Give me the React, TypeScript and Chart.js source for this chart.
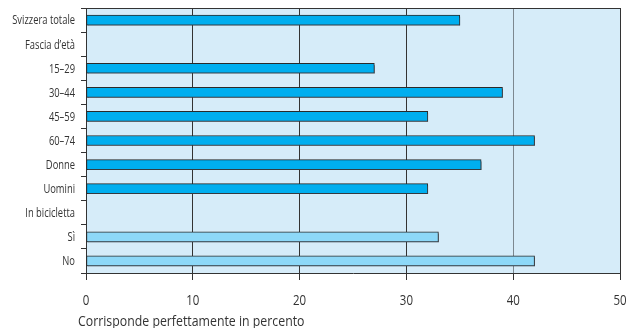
import React, { useEffect, useRef } from "react";
import { Chart, registerables } from "chart.js";

Chart.register(...registerables);

const categories = [
  "Svizzera totale",
  "Fascia d’età",
  "15–29",
  "30–44",
  "45–59",
  "60–74",
  "Donne",
  "Uomini",
  "In bicicletta",
  "Sì",
  "No",
];
const values: (number | null)[] = [35, null, 27, 39, 32, 42, 37, 32, null, 33, 42];
const barColors = [
  "#00aeef", "#00aeef", "#00aeef", "#00aeef", "#00aeef", "#00aeef",
  "#00aeef", "#00aeef", "#8dd8f8", "#8dd8f8", "#8dd8f8",
];
const xTicks = [0, 10, 20, 30, 40, 50];
const xTitle = "Corrisponde perfettamente in percento";

const FONT = "'Open Sans', sans-serif";
const TEXT = "#333333";

function condensedText(ctx: any, text: string, x: number, y: number, size: number, sx: number, align: string, baseline: string) {
  ctx.save();
  ctx.font = `${size}px ${FONT}`;
  ctx.fillStyle = TEXT;
  ctx.textAlign = align;
  ctx.textBaseline = baseline;
  ctx.translate(x, y);
  ctx.scale(sx, 1);
  ctx.fillText(text, 0, 0);
  ctx.restore();
}

const bgPlugin = {
  id: "plotBg",
  beforeDraw(chart: any) {
    const { ctx, chartArea } = chart;
    ctx.save();
    ctx.fillStyle = "#d6ecf9";
    ctx.fillRect(chartArea.left, chartArea.top, chartArea.right - chartArea.left, chartArea.bottom - chartArea.top);
    ctx.restore();
  },
  beforeDatasetsDraw(chart: any) {
    const { ctx, chartArea } = chart;
    ctx.save();
    ctx.strokeStyle = "#333333";
    ctx.lineWidth = 1;
    ctx.beginPath();
    ctx.moveTo(chartArea.left, Math.round(chartArea.top) + 0.5);
    ctx.lineTo(chartArea.right, Math.round(chartArea.top) + 0.5);
    ctx.stroke();
    ctx.restore();
    ctx.save();
    ctx.shadowColor = "rgba(60,70,80,0.6)";
    ctx.shadowOffsetX = 1;
    ctx.shadowOffsetY = 2;
    ctx.shadowBlur = 0;
  },
  afterDatasetsDraw(chart: any) {
    chart.ctx.restore();
  },
  afterDraw(chart: any) {
    const { ctx, scales, chartArea } = chart;
    const y = scales.y;
    const x = scales.x;
    categories.forEach((c, i) => {
      condensedText(ctx, c, 75, y.getPixelForValue(i) + 1, 12, 0.78, "right", "middle");
    });
    xTicks.forEach((v) => {
      condensedText(ctx, String(v), x.getPixelForValue(v), chartArea.bottom + 28, 14, 0.82, "center", "middle");
    });
    condensedText(ctx, xTitle, 78, 326, 14, 0.88, "left", "alphabetic");
  },
};

export default function App() {
  const ref = useRef<HTMLCanvasElement>(null);
  useEffect(() => {
    document.body.style.margin = "0";
    const chart = new Chart(ref.current!, {
      type: "bar",
      data: {
        labels: categories,
        datasets: [
          {
            data: values,
            backgroundColor: barColors,
            borderColor: "#2a2a2a",
            borderWidth: 1,
            borderSkipped: false,
            barThickness: 10,
          },
        ],
      },
      options: {
        indexAxis: "y",
        responsive: false,
        animation: false,
        layout: { padding: { top: 8, right: 7, left: 0, bottom: 0 } },
        plugins: { legend: { display: false }, tooltip: { enabled: false } },
        scales: {
          x: {
            min: 0,
            max: 50,
            afterBuildTicks(scale: any) {
              scale.ticks = xTicks.map((v) => ({ value: v }));
            },
            afterFit(scale: any) {
              scale.height = 55;
            },
            grid: {
              color: (c: any) => (c.tick && c.tick.value === 40 ? "#7d8890" : "#333333"),
              lineWidth: 1,
              tickLength: 7,
              tickColor: "#333333",
            },
            border: { color: "#333333", width: 1 },
            ticks: { display: false },
          },
          y: {
            afterFit(scale: any) {
              scale.width = 86;
            },
            grid: {
              drawOnChartArea: false,
              tickLength: 5,
              tickColor: "#333333",
              offset: true,
            },
            border: { color: "#333333", width: 1 },
            ticks: { display: false },
          },
        },
      },
      plugins: [bgPlugin],
    });
    return () => chart.destroy();
  }, []);
  return <canvas ref={ref} width={627} height={328} style={{ display: "block" }} />;
}
